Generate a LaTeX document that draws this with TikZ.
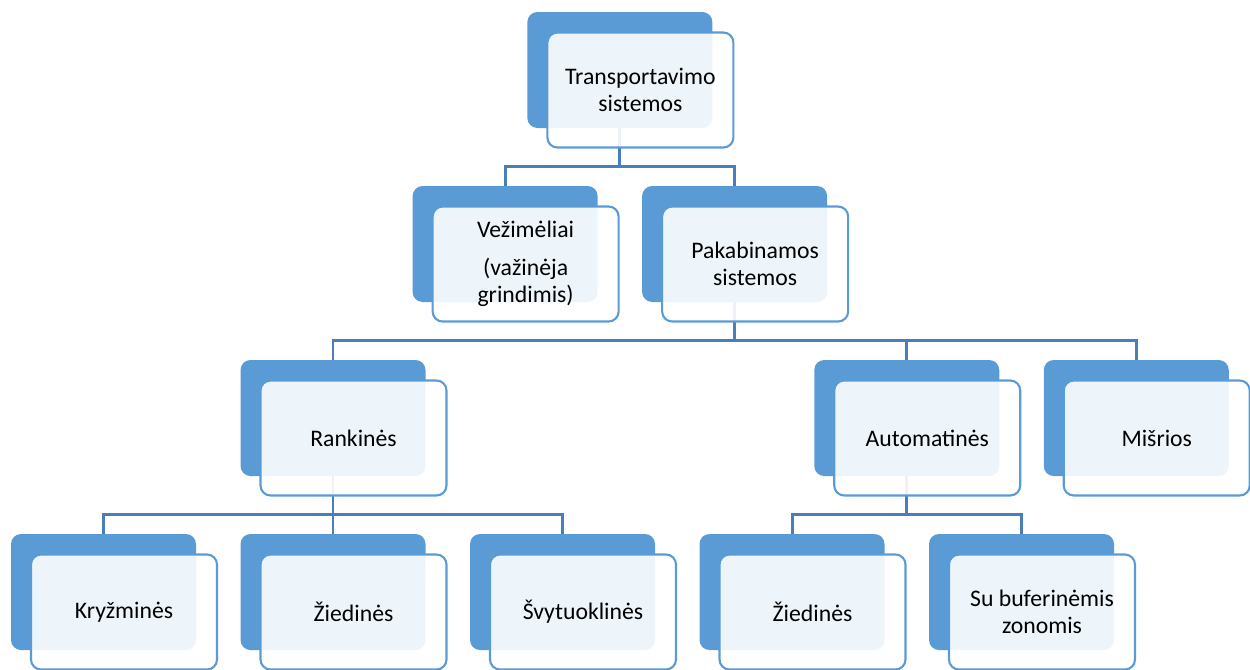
\documentclass[tikz,border=0pt]{standalone}
\usepackage{fontspec}
\setmainfont{Carlito}
\usetikzlibrary{math}
\pgfdeclarelayer{background}
\pgfsetlayers{background,main}
\definecolor{accblue}{HTML}{5B9BD5}
\definecolor{linkblue}{HTML}{4A7EBB}
\tikzset{backbox/.style={rounded corners=0.2cm, fill=accblue, minimum width=3.7cm, minimum height=2.32cm, inner sep=0pt},
	frontbox/.style={rounded corners=0.2cm, draw=accblue, line width=1.2pt, fill=white, fill opacity=0.9, text opacity=1, minimum width=3.72cm, minimum height=2.3cm, align=center, inner sep=2pt, font=\fontsize{13.5}{15.5}\selectfont},
	link/.style={draw=linkblue, line width=1.7pt}}

\begin{document}
\begin{tikzpicture}
	\tikzmath{\cw=4.59; \rh=3.48; \xo=2.07; \yo=-1.4; \dx=0.41; \dy=0.4; \dd=0.77;
	}
	\useasboundingbox (0,0) rectangle (25,-13.38);
	% level 1 and 2
	\node[backbox] (trans-b) at ({\xo+2.25*\cw},{\yo}) {};
	\node[frontbox] (trans) at ([shift={(\dx,-\dy)}]trans-b.center) {Transportavimo\\sistemos};
	\node[backbox] (vez-b) at ({\xo+1.75*\cw},{\yo-\rh}) {};
	\node[frontbox] (vez) at ([shift={(\dx,-\dy)}]vez-b.center) {Vežimėliai\\[6pt](važinėja\\grindimis)};
	\node[backbox] (pak-b) at ({\xo+2.75*\cw},{\yo-\rh}) {};
	\node[frontbox] (pak) at ([shift={(\dx,-\dy)}]pak-b.center) {Pakabinamos\\sistemos};
	% level 3
	\node[backbox] (rank-b) at ({\xo+1*\cw},{\yo-2*\rh}) {};
	\node[frontbox] (rank) at ([shift={(\dx,-\dy)}]rank-b.center) {Rankinės};
	\node[backbox] (auto-b) at ({\xo+3.5*\cw},{\yo-2*\rh}) {};
	\node[frontbox] (auto) at ([shift={(\dx,-\dy)}]auto-b.center) {Automatinės};
	\node[backbox] (mis-b) at ({\xo+4.5*\cw},{\yo-2*\rh}) {};
	\node[frontbox] (mis) at ([shift={(\dx,-\dy)}]mis-b.center) {Mišrios};
	% level 4
	\node[backbox] (kryz-b) at ({\xo},{\yo-3*\rh}) {};
	\node[frontbox] (kryz) at ([shift={(\dx,-\dy)}]kryz-b.center) {Kryžminės};
	\node[backbox] (zied-b) at ({\xo+1*\cw},{\yo-3*\rh}) {};
	\node[frontbox] (zied) at ([shift={(\dx,-\dy)}]zied-b.center) {Žiedinės};
	\node[backbox] (svyt-b) at ({\xo+2*\cw},{\yo-3*\rh}) {};
	\node[frontbox] (svyt) at ([shift={(\dx,-\dy)}]svyt-b.center) {Švytuoklinės};
	\node[backbox] (ziedb-b) at ({\xo+3*\cw},{\yo-3*\rh}) {};
	\node[frontbox] (ziedb) at ([shift={(\dx,-\dy)}]ziedb-b.center) {Žiedinės};
	\node[backbox] (buf-b) at ({\xo+4*\cw},{\yo-3*\rh}) {};
	\node[frontbox] (buf) at ([shift={(\dx,-\dy)}]buf-b.center) {Su buferinėmis\\zonomis};
	\begin{pgfonlayer}{background}
		\draw[link] (trans-b.south) -- ++(0,-\dd) coordinate (trans-j) -| (vez-b.north);
		\draw[link] (trans-j) -| (pak-b.north);
		\draw[link] (pak-b.south) -- ++(0,-\dd) coordinate (pak-j) -| (rank-b.north);
		\draw[link] (pak-j) -| (auto-b.north);
		\draw[link] (pak-j) -| (mis-b.north);
		\draw[link] (rank-b.south) -- ++(0,-\dd) coordinate (rank-j) -| (kryz-b.north);
		\draw[link] (rank-j) -| (zied-b.north);
		\draw[link] (rank-j) -| (svyt-b.north);
		\draw[link] (auto-b.south) -- ++(0,-\dd) coordinate (auto-j) -| (ziedb-b.north);
		\draw[link] (auto-j) -| (buf-b.north);
	\end{pgfonlayer}
\end{tikzpicture}
\end{document}
